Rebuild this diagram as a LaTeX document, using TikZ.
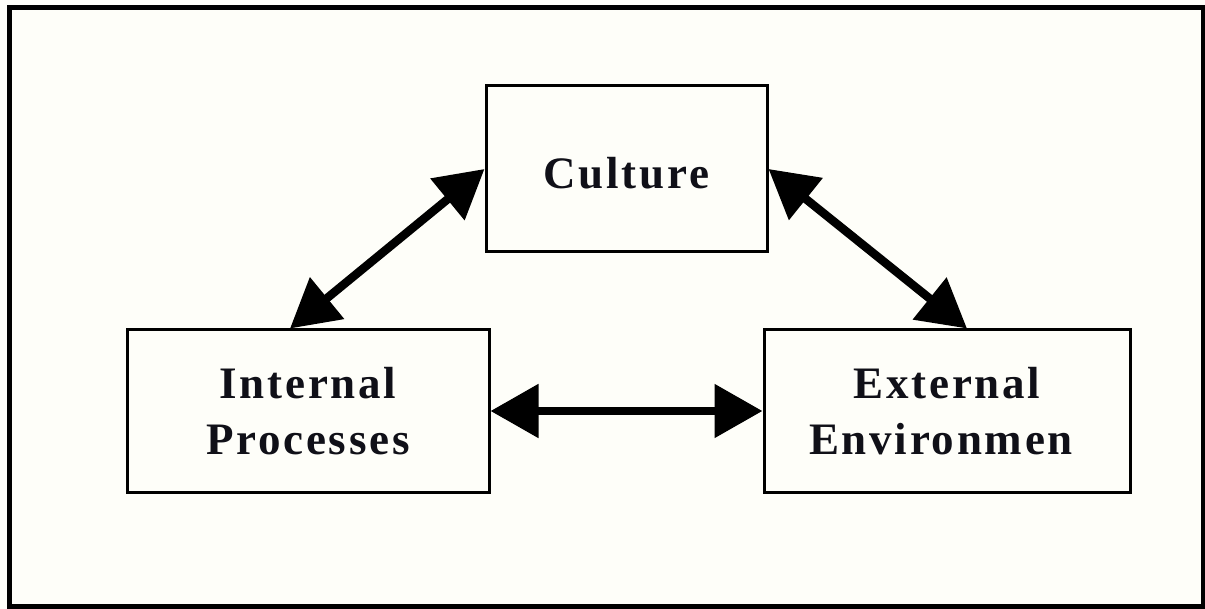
\documentclass[tikz,border=0pt]{standalone}
\usepackage{fontspec}
\setmainfont{Liberation Serif}
\newfontfamily\boxfont[LetterSpace=6]{Liberation Serif}
\usetikzlibrary{arrows.meta}
\definecolor{paper}{HTML}{FEFEF9}
\definecolor{ink}{HTML}{101018}
\tikzset{
  boxnode/.style={draw=black, line width=3pt, inner sep=0pt, align=center,
    font=\boxfont\bfseries\fontsize{45}{56}\selectfont, text=ink},
  biarrow/.style={line width=8.5pt, {Triangle[length=48pt,width=52pt]}-{Triangle[length=48pt,width=52pt]}}
}
\begin{document}
\begin{tikzpicture}[x=1pt,y=-1pt]
\useasboundingbox (0,0) rectangle (1205,609);
\fill[paper] (0,0) rectangle (1205,609);
\draw[line width=5pt] (9,7.5) rectangle (1203.5,606.5);
\node[boxnode, minimum width=281pt, minimum height=166pt] (cul) at (626.5,169) {\raisebox{-20pt}[0pt][0pt]{Culture}};
\node[boxnode, minimum width=362pt, minimum height=162pt] (int) at (308,411) {Internal\\Processes};
\node[boxnode, minimum width=366pt, minimum height=162pt] (ext) at (947,411) {External\\Environmen\hspace*{12pt}};
\draw[biarrow] ([xshift=-18pt]int.north) -- (cul.west);
\draw[biarrow] (cul.east) -- ([xshift=20pt]ext.north);
\draw[biarrow] (int.east) -- (ext.west);
\end{tikzpicture}
\end{document}
